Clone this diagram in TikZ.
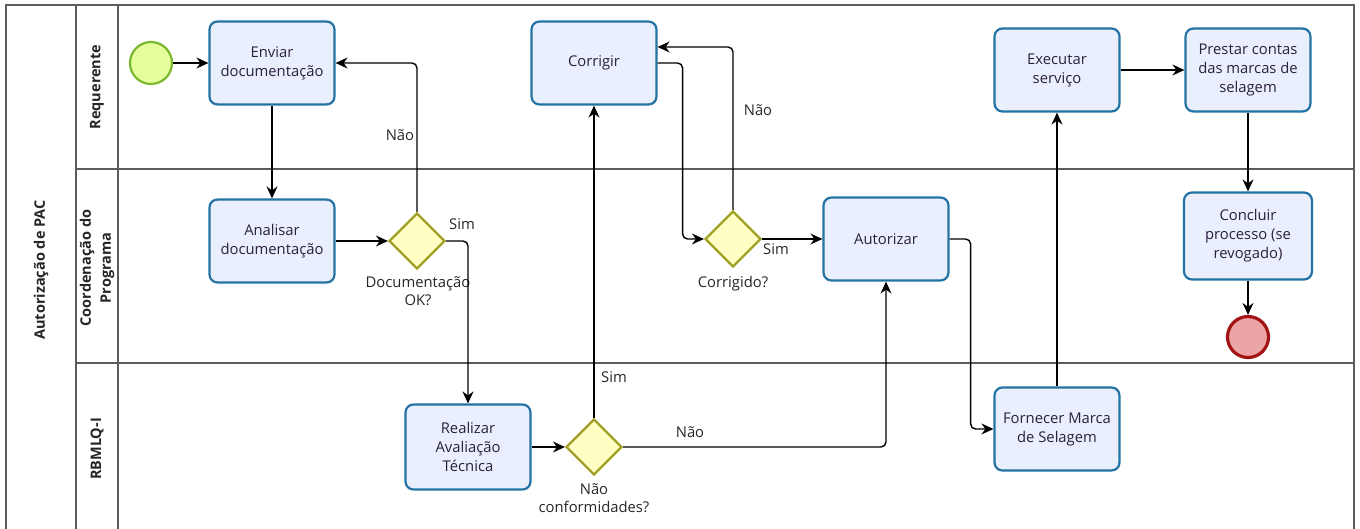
\documentclass[tikz,border=0pt]{standalone}
\usepackage{fontspec}
\setmainfont{Open Sans}
\usetikzlibrary{arrows.meta,shapes.geometric}
\definecolor{taskline}{HTML}{2373A5}
\definecolor{taskfill}{HTML}{EAEFFD}
\definecolor{tasktext}{HTML}{2A2040}
\definecolor{gwline}{HTML}{A0A024}
\definecolor{gwfill}{HTML}{FFFFC4}
\definecolor{stline}{HTML}{7CB82F}
\definecolor{stfill}{HTML}{E5FF9C}
\definecolor{enline}{HTML}{A31515}
\definecolor{enfill}{HTML}{EBA5A5}
\definecolor{poolline}{HTML}{5C5C5C}
\begin{document}
\begin{tikzpicture}[x=1pt,y=-1pt,
 task/.style={draw=taskline, fill=taskfill, line width=2.2pt, rounded corners=8pt,
   minimum width=125pt, minimum height=83pt, align=center,
   font=\fontsize{14.8}{19}\selectfont, text=tasktext, inner sep=2pt},
 gw/.style={diamond, draw=gwline, fill=gwfill, line width=2.2pt,
   minimum width=56pt, minimum height=56pt, inner sep=0pt},
 flow/.style={draw=black, line width=1.4pt, rounded corners=5pt,
   -{Stealth[length=12pt,width=11pt,inset=4pt]}},
 lbl/.style={font=\fontsize{14.8}{18}\selectfont, align=center, text=black!85},
 lanelbl/.style={font=\bfseries\fontsize{14.5}{20}\selectfont, rotate=90, align=center, text=black!85},
 poolln/.style={draw=poolline, line width=1.5pt}
]
\useasboundingbox (0,0) rectangle (1360,529);
% pool and lanes
\draw[poolln] (6,545) -- (6,5) -- (1354,5) -- (1354,545);
\draw[poolln] (76,5) -- (76,545);
\draw[poolln] (118,5) -- (118,545);
\draw[poolln] (76,169) -- (1354,169);
\draw[poolln] (76,363) -- (1354,363);
\node[lanelbl] (pool) at (41,270) {Autorização de PAC};
\node[lanelbl] (l1) at (97,87) {Requerente};
\node[lanelbl] (l2) at (97,268) {Coordenação do\\Programa};
\node[lanelbl] (l3) at (97,449) {RBMLQ-I};
% events
\node[circle, draw=stline, fill=stfill, line width=2.2pt, minimum size=42pt] (start) at (151,63) {};
\node[circle, draw=enline, fill=enfill, line width=3.2pt, minimum size=41pt] (endev) at (1248,337) {};
% tasks
\node[task] (enviar) at (272,63) {Enviar\\documentação};
\node[task] (analisar) at (272,241) {Analisar\\documentação};
\node[task, minimum height=85pt] (realizar) at (468,447) {Realizar\\Avaliação\\Técnica};
\node[task] (corrigir) at (594,63) {Corrigir};
\node[task] (autorizar) at (886,239) {Autorizar};
\node[task] (fornecer) at (1057,429) {Fornecer Marca\\de Selagem};
\node[task] (executar) at (1057,70) {Executar\\serviço};
\node[task] (prestar) at (1248,70) {Prestar contas\\das marcas de\\selagem};
\node[task, minimum width=128pt, minimum height=87pt] (concluir) at (1248,236) {Concluir\\processo (se\\revogado)};
% gateways
\node[gw] (g1) at (417,241) {};
\node[gw] (g2) at (594,447) {};
\node[gw] (g3) at (733,239) {};
% gateway labels
\node[lbl] (g1lbl) at (418,291) {Documentação\\OK?};
\node[lbl] (g2lbl) at (594,498) {Não\\conformidades?};
\node[lbl] (g3lbl) at (733,284) {Corrigido?};
\node[lbl] (s1) at (462,224) {Sim};
\node[lbl] (n1) at (400,135) {Não};
\node[lbl] (s2) at (614,377) {Sim};
\node[lbl] (n2) at (690,432) {Não};
\node[lbl] (s3) at (776,249) {Sim};
\node[lbl] (n3) at (758,110) {Não};
% flows
\draw[flow] (start) -- (enviar);
\draw[flow] (enviar) -- (analisar);
\draw[flow] (analisar) -- (g1);
\draw[flow] (g1.north) |- (enviar.east);
\draw[flow] (g1.east) -| (realizar.north);
\draw[flow] (realizar) -- (g2);
\draw[flow] (g2.north) -- (corrigir.south);
\draw[flow] (g2.east) -| (autorizar.south);
\draw[flow] (corrigir.east) -- ++(25,0) |- (g3.west);
\draw[flow] (g3.north) |- ([yshift=16pt]corrigir.east);
\draw[flow] (g3) -- (autorizar);
\draw[flow] (autorizar.east) -- ++(21,0) |- (fornecer.west);
\draw[flow] (fornecer) -- (executar);
\draw[flow] (executar) -- (prestar);
\draw[flow] (prestar) -- (concluir);
\draw[flow] (concluir) -- (endev);
\end{tikzpicture}
\end{document}
